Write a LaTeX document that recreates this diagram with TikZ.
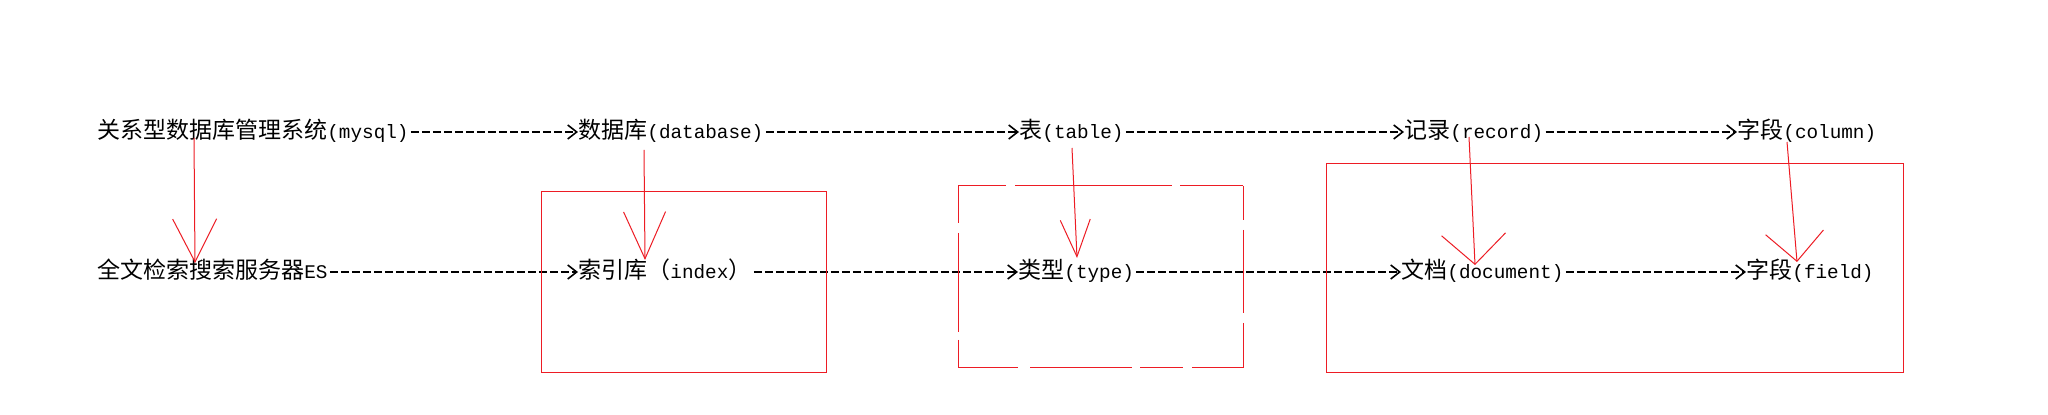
\documentclass[tikz,border=0pt]{standalone}
\usepackage{fontspec}
\setmainfont{Liberation Mono}[Scale=0.84]
\newfontfamily\zh{Noto Sans CJK SC}
\usetikzlibrary{arrows.meta,calc}
\definecolor{paintred}{RGB}{237,28,36}
\begin{document}
\begin{tikzpicture}[x=0.5pt, y=-0.5pt,
	lbl/.style={anchor=base west, inner sep=0pt, text height=9pt, text depth=2pt, font=\fontsize{11.5pt}{13pt}\selectfont},
	dashline/.style={line width=0.8pt, dash pattern=on 4pt off 1.5pt, shorten <=1pt, -{Straight Barb[length=4.5pt, width=7pt]}},
	redline/.style={draw=paintred, line width=0.5pt},
	redarrow/.style 2 args={redline, -{Straight Barb[length=#1, width=#2]}}]
	\fill[white] (0,0) rectangle (2048,415);
	\node[lbl] (mysql) at (97,139) {{\zh 关系型数据库管理系统}(mysql)};
	\node[lbl] (db) at (578,139) {{\zh 数据库}(database)};
	\node[lbl] (table) at (1019,139) {{\zh 表}(table)};
	\node[lbl] (record) at (1404,139) {{\zh 记录}(record)};
	\node[lbl] (column) at (1737,139) {{\zh 字段}(column)};
	\node[lbl] (es) at (97,279) {{\zh 全文检索搜索服务器}ES};
	\node[lbl] (index) at (578,279) {{\zh 索引库（}index{\zh ）}};
	\node[lbl] (type) at (1018,279) {{\zh 类型}(type)};
	\node[lbl] (document) at (1401,279) {{\zh 文档}(document)};
	\node[lbl] (field) at (1746,279) {{\zh 字段}(field)};
	\draw[dashline] (mysql) -- (db);
	\draw[dashline] (db) -- (table);
	\draw[dashline] (table) -- (record);
	\draw[dashline] (record) -- (column);
	\draw[dashline] (es) -- (index);
	\draw[dashline] (index) -- (type);
	\draw[dashline] (type) -- (document);
	\draw[dashline] (document) -- (field);
	\draw[redline] (541,192) rectangle (826,373);
	\draw[redline] (958,186) -- (1006,186) (1015,186) -- (1172,186) (1180,186) -- (1243,186)
		(1243,186) -- (1243,220) (1243,230) -- (1243,313) (1243,323) -- (1243,368)
		(958,368) -- (1018,368) (1030,368) -- (1132,368) (1140,368) -- (1183,368) (1192,368) -- (1243,368)
		(958,186) -- (958,223) (958,233) -- (958,332) (958,340) -- (958,368);
	\draw[redline] (1326,164) rectangle (1903,373);
	\draw[redarrow={21.5pt}{22pt}] ($(mysql.base west)+(97,-1)$) -- ($(es.base west)+(98,-16)$);
	\draw[redarrow={23.5pt}{21pt}] ($(db.base west)+(66,11)$) -- ($(index.base west)+(67,-19)$);
	\draw[redarrow={18.5pt}{15pt}] ($(table.base west)+(53,9)$) -- ($(type.base west)+(59,-21)$);
	\draw[redarrow={15pt}{32pt}] ($(record.base west)+(65,-2)$) -- ($(document.base west)+(74,-14)$);
	\draw[redarrow={14.5pt}{29pt}] ($(column.base west)+(50,3)$) -- ($(field.base west)+(51,-17)$);
\end{tikzpicture}
\end{document}
